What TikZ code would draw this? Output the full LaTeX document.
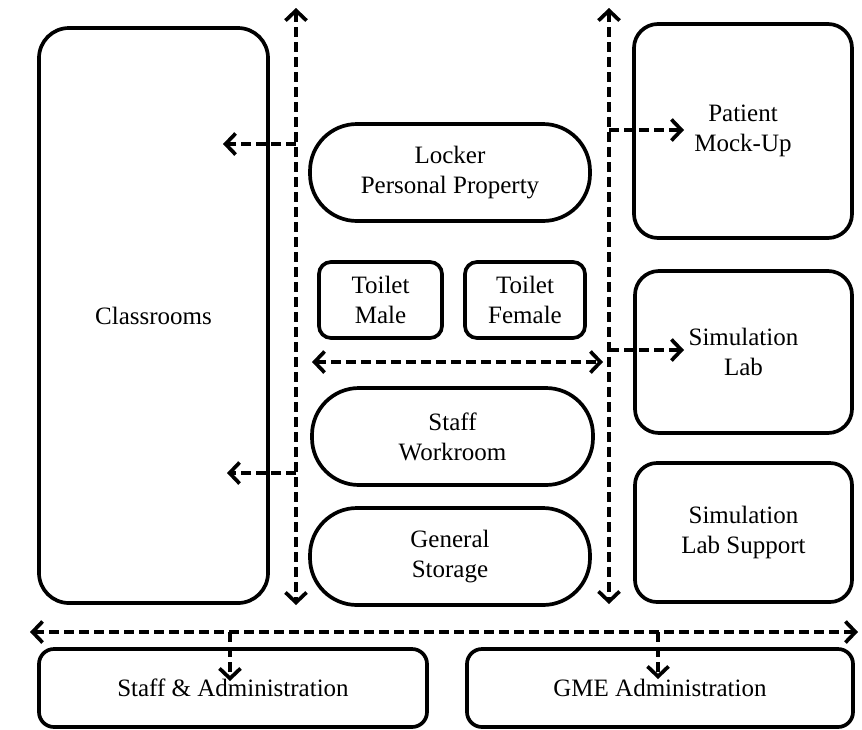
\documentclass[tikz,border=0pt]{standalone}
\usepackage{fontspec}
\setmainfont{Liberation Serif}
\usetikzlibrary{arrows.meta}
\begin{document}
\begin{tikzpicture}[x=1pt,y=-1pt,
  box/.style={draw, line width=3.7pt, inner sep=0pt, align=center,
    font=\fontsize{25}{30}\selectfont},
  pill/.style={box, rounded corners=47pt, minimum width=280pt, minimum height=97pt},
  dar/.style={line width=3.7pt, dash pattern=on 10pt off 5pt},
  >={Straight Barb[length=10pt,width=21pt]}]
\useasboundingbox (0,0) rectangle (862,729);

% boxes
\node[box, rounded corners=30pt, minimum width=229pt, minimum height=575pt] (class) at (153.5,315.5) {Classrooms};
\node[pill] (locker) at (450,172.5) {Locker\\Personal Property};
\node[box, rounded corners=12pt, minimum width=123pt, minimum height=76pt] (tm) at (380.5,300) {Toilet\\Male};
\node[box, rounded corners=12pt, minimum width=120pt, minimum height=76pt] (tf) at (525,300) {Toilet\\Female};
\node[pill, minimum width=281pt] (work) at (452.5,436.5) {Staff\\Workroom};
\node[pill] (stor) at (450,556.5) {General\\Storage};
\node[box, rounded corners=24pt, minimum width=218pt, minimum height=214pt] (pat) at (743,131) {Patient\\Mock-Up};
\node[box, rounded corners=24pt, minimum width=217pt, minimum height=162pt] (sim) at (743.5,352) {Simulation\\Lab};
\node[box, rounded corners=22pt, minimum width=217pt, minimum height=139pt] (sup) at (743.5,532.5) {Simulation\\Lab Support};
\node[box, rounded corners=15pt, minimum width=388pt, minimum height=78pt] (staff) at (233,688) {Staff \& Administration};
\node[box, rounded corners=15pt, minimum width=386pt, minimum height=78pt] (gme) at (660,688) {GME Administration};

% connector end points
\coordinate (L1) at (296,8);   \coordinate (L2) at (296,605);
\coordinate (R1) at (609,8);   \coordinate (R2) at (609,604);
\coordinate (La) at (296,144); \coordinate (Lae) at (223,144);
\coordinate (Lb) at (296,473); \coordinate (Lbe) at (227,473);
\coordinate (Ra) at (609,130); \coordinate (Rae) at (684,130);
\coordinate (Rb) at (609,350); \coordinate (Rbe) at (684,350);
\coordinate (M1) at (312,362); \coordinate (M2) at (603,362);
\coordinate (B1) at (30,632);  \coordinate (B2) at (858,632);
\coordinate (Bs) at (230,632); \coordinate (Bse) at (230,681);
\coordinate (Bg) at (658,632); \coordinate (Bge) at (658,679);

% connectors
\draw[dar,<->] (L1) -- (L2);
\draw[dar,<->] (R1) -- (R2);
\draw[dar,->] (La) -- (Lae);
\draw[dar,->] (Lb) -- (Lbe);
\draw[dar,->] (Ra) -- (Rae);
\draw[dar,->] (Rb) -- (Rbe);
\draw[dar,<->] (M1) -- (M2);
\draw[dar,<->] (B1) -- (B2);
\draw[dar,->] (Bs) -- (Bse);
\draw[dar,->] (Bg) -- (Bge);
\end{tikzpicture}
\end{document}
